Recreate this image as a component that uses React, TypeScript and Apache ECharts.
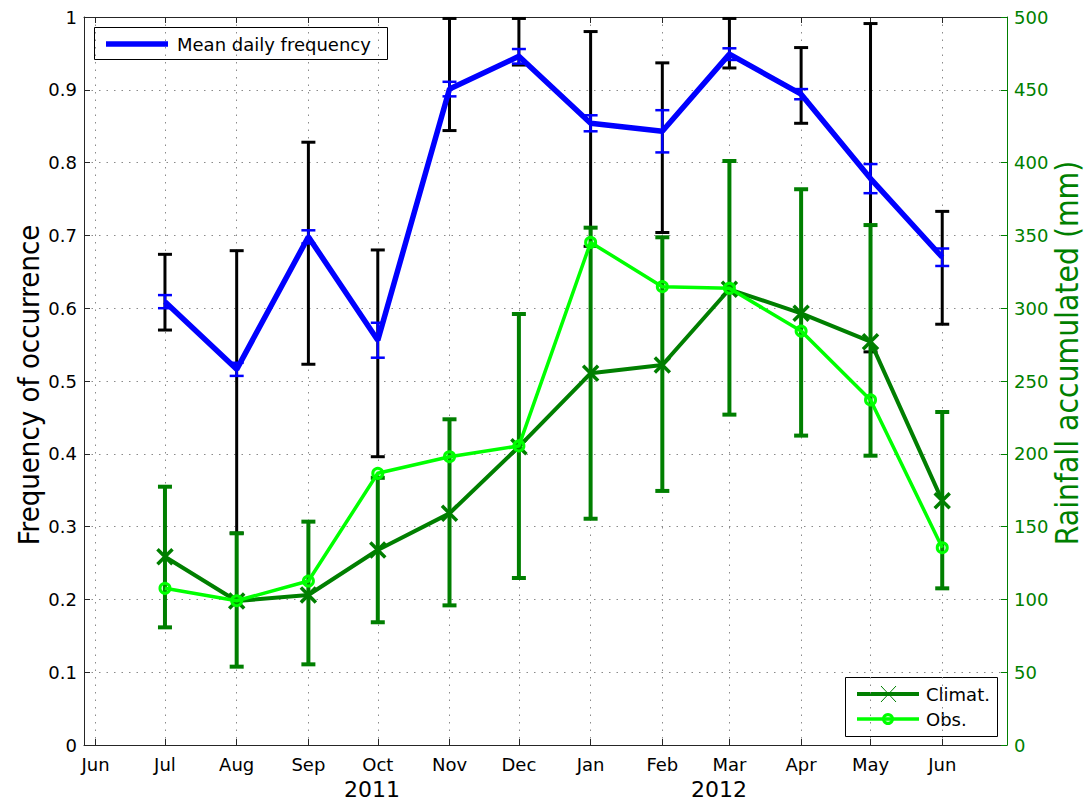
import React, { useEffect, useRef } from "react";
import * as echarts from "echarts";

// Day offsets from 1 Jun 2011 for each month tick (Jun 2011 ... Jun 2012)
const tickDays = [0, 30, 61, 92, 122, 153, 183, 214, 245, 274, 305, 335, 366];
const tickLabels = ["Jun", "Jul", "Aug", "Sep", "Oct", "Nov", "Dec", "Jan", "Feb", "Mar", "Apr", "May", "Jun"];

// Data points (Jul 2011 ... Jun 2012)
const pointDays = [30, 61, 92, 122, 153, 183, 214, 245, 274, 305, 335, 366];

const meanFreq = [0.609, 0.516, 0.698, 0.556, 0.901, 0.946, 0.854, 0.843, 0.949, 0.894, 0.778, 0.670];
const meanErr = [0.009, 0.009, 0.009, 0.024, 0.010, 0.010, 0.011, 0.029, 0.008, 0.007, 0.020, 0.012];
const freqLow = [0.570, 0.291, 0.523, 0.396, 0.844, 0.934, 0.685, 0.704, 0.930, 0.854, 0.540, 0.578];
const freqHigh = [0.674, 0.679, 0.828, 0.680, 0.998, 0.998, 0.980, 0.937, 0.998, 0.958, 0.991, 0.733];

const climat = [129.3, 98.9, 103.0, 133.9, 159.1, 204.9, 255.3, 261.0, 313.0, 296.5, 277.0, 167.8];
const climLow = [80.8, 53.8, 55.4, 84.3, 95.9, 114.7, 155.4, 174.5, 226.9, 212.5, 198.7, 107.6];
const climHigh = [177.4, 145.4, 153.4, 183.5, 223.7, 296.0, 355.3, 348.7, 401.1, 381.7, 357.1, 228.7];
const obs = [107.6, 99.1, 112.6, 186.6, 198.0, 205.4, 345.2, 314.8, 313.7, 284.3, 237.0, 135.5];

const BLUE = "#0000ff";
const DKGREEN = "#007f00";
const LTGREEN = "#00ff00";
const AXIS = "#262626";
const GRID = "#8a8a8a";
const FONT = "'DejaVu Sans', 'Liberation Sans', sans-serif";
const TITLEFONT = "'DejaVu Sans Condensed', 'Liberation Sans Narrow', 'Roboto Condensed', 'DejaVu Sans', sans-serif";

function errorBarSeries(name: string, low: number[], high: number[], color: string, width: number, yAxisIndex: number, z: number) {
  return {
    type: "custom",
    name,
    yAxisIndex,
    z,
    data: pointDays.map((d, i) => [d, low[i], high[i]]),
    encode: { x: 0, y: [1, 2] },
    renderItem: (params: any, api: any) => {
      const x = api.value(0);
      const p1 = api.coord([x, api.value(1)]);
      const p2 = api.coord([x, api.value(2)]);
      const w = 7;
      const style = { stroke: color, lineWidth: width };
      return {
        type: "group",
        children: [
          { type: "line", shape: { x1: p1[0], y1: p1[1], x2: p2[0], y2: p2[1] }, style },
          { type: "line", shape: { x1: p1[0] - w, y1: p1[1], x2: p1[0] + w, y2: p1[1] }, style },
          { type: "line", shape: { x1: p2[0] - w, y1: p2[1], x2: p2[0] + w, y2: p2[1] }, style },
        ],
      };
    },
  };
}

export default function App() {
  const ref = useRef<HTMLDivElement>(null);
  useEffect(() => {
    if (!ref.current) return;
    const chart = echarts.init(ref.current, null, { renderer: "svg" });
    const xCommon = {
      type: "value",
      min: -5,
      max: 394,
      axisLine: { show: true, onZero: false, lineStyle: { color: AXIS, width: 1 } },
      axisTick: { show: true, inside: true, length: 6, customValues: tickDays, lineStyle: { color: AXIS } },
    };
    const option: any = {
      animation: false,
      backgroundColor: "#ffffff",
      grid: { left: 84, top: 17, right: 79, bottom: 58 },
      xAxis: [
        {
          ...xCommon,
          position: "bottom",
          axisLabel: {
            show: true,
            customValues: tickDays,
            formatter: (v: number) => tickLabels[tickDays.indexOf(v)] ?? "",
            fontSize: 18,
            fontFamily: FONT,
            color: "#000",
            margin: 10,
          },
          splitLine: { show: true, lineStyle: { type: [1.5, 6], color: GRID, width: 1 } },
        },
        {
          ...xCommon,
          position: "top",
          axisLabel: { show: false },
          splitLine: { show: false },
        },
      ],
      yAxis: [
        {
          type: "value",
          min: 0,
          max: 1,
          interval: 0.1,
          position: "left",
          axisLine: { show: true, onZero: false, lineStyle: { color: AXIS, width: 1 } },
          axisTick: { show: true, inside: true, length: 6, lineStyle: { color: AXIS } },
          axisLabel: {
            formatter: (v: number) => (v === 0 ? "0" : v === 1 ? "1" : v.toFixed(1)),
            fontSize: 18,
            fontFamily: FONT,
            color: "#000",
            margin: 7,
          },
          splitLine: { show: true, lineStyle: { type: [1.5, 6], color: GRID, width: 1 } },
        },
        {
          type: "value",
          min: 0,
          max: 500,
          interval: 50,
          position: "right",
          axisLine: { show: true, onZero: false, lineStyle: { color: DKGREEN, width: 1 } },
          axisTick: { show: true, inside: true, length: 6, lineStyle: { color: DKGREEN } },
          axisLabel: { fontSize: 18, fontFamily: FONT, color: DKGREEN, margin: 7 },
          splitLine: { show: false },
        },
      ],
      series: [
        errorBarSeries("freqRange", freqLow, freqHigh, "#000000", 3, 0, 2),
        {
          type: "line",
          name: "Mean daily frequency",
          yAxisIndex: 0,
          z: 3,
          data: pointDays.map((d, i) => [d, meanFreq[i]]),
          showSymbol: false,
          symbol: "none",
          lineStyle: { color: BLUE, width: 5.5 },
          itemStyle: { color: BLUE },
        },
        errorBarSeries("meanErr", meanFreq.map((m, i) => m - meanErr[i]), meanFreq.map((m, i) => m + meanErr[i]), BLUE, 2.5, 0, 4),
        errorBarSeries("climRange", climLow, climHigh, DKGREEN, 4, 1, 5),
        {
          type: "line",
          name: "Climat.",
          yAxisIndex: 1,
          z: 6,
          data: pointDays.map((d, i) => [d, climat[i]]),
          symbol: "path://M0,0L10,10M10,0L0,10",
          symbolSize: 15,
          lineStyle: { color: DKGREEN, width: 4 },
          itemStyle: { color: "none", borderColor: DKGREEN, borderWidth: 3.5 },
        },
        {
          type: "line",
          name: "Obs.",
          yAxisIndex: 1,
          z: 7,
          data: pointDays.map((d, i) => [d, obs[i]]),
          symbol: "circle",
          symbolSize: 10,
          lineStyle: { color: LTGREEN, width: 3.5 },
          itemStyle: { color: "rgba(0,255,0,0.15)", borderColor: LTGREEN, borderWidth: 3 },
        },
      ],
      graphic: [
        {
          type: "text",
          x: 29,
          y: 385,
          rotation: Math.PI / 2,
          style: { text: "Frequency of occurrence", fontSize: 29, fontFamily: TITLEFONT, fill: "#000", textAlign: "center", textVerticalAlign: "middle" },
        },
        {
          type: "text",
          x: 1067,
          y: 353,
          rotation: Math.PI / 2,
          style: { text: "Rainfall accumulated (mm)", fontSize: 31.5, fontFamily: TITLEFONT, fill: DKGREEN, textAlign: "center", textVerticalAlign: "middle" },
        },
        {
          type: "text",
          x: 372,
          y: 789,
          style: { text: "2011", fontSize: 22, fontFamily: FONT, fill: "#000", textAlign: "center", textVerticalAlign: "middle" },
        },
        {
          type: "text",
          x: 719,
          y: 789,
          style: { text: "2012", fontSize: 22, fontFamily: FONT, fill: "#000", textAlign: "center", textVerticalAlign: "middle" },
        },
        {
          type: "group",
          z: 100,
          children: [
            { type: "rect", shape: { x: 94.5, y: 27.5, width: 293, height: 32 }, style: { fill: "#fff", stroke: "#000", lineWidth: 1 } },
            { type: "line", shape: { x1: 106, y1: 44, x2: 168, y2: 44 }, style: { stroke: BLUE, lineWidth: 5.5 } },
            { type: "text", x: 177, y: 44, style: { text: "Mean daily frequency", fontSize: 18, fontFamily: FONT, fill: "#000", textVerticalAlign: "middle" } },
          ],
        },
        {
          type: "group",
          z: 100,
          children: [
            { type: "rect", shape: { x: 845.5, y: 677.5, width: 152, height: 59 }, style: { fill: "#fff", stroke: "#000", lineWidth: 1 } },
            { type: "line", shape: { x1: 857, y1: 694, x2: 919, y2: 694 }, style: { stroke: DKGREEN, lineWidth: 4 } },
            { type: "line", shape: { x1: 881, y1: 686, x2: 896, y2: 702 }, style: { stroke: DKGREEN, lineWidth: 1 } },
            { type: "line", shape: { x1: 896, y1: 686, x2: 881, y2: 702 }, style: { stroke: DKGREEN, lineWidth: 1 } },
            { type: "text", x: 926, y: 694, style: { text: "Climat.", fontSize: 18, fontFamily: FONT, fill: "#000", textVerticalAlign: "middle" } },
            { type: "line", shape: { x1: 857, y1: 719, x2: 919, y2: 719 }, style: { stroke: LTGREEN, lineWidth: 3.5 } },
            { type: "circle", shape: { cx: 888, cy: 719, r: 4.5 }, style: { fill: "rgba(0,255,0,0.15)", stroke: LTGREEN, lineWidth: 3 } },
            { type: "text", x: 926, y: 719, style: { text: "Obs.", fontSize: 18, fontFamily: FONT, fill: "#000", textVerticalAlign: "middle" } },
          ],
        },
      ],
    };
    chart.setOption(option);
    return () => chart.dispose();
  }, []);
  return <div ref={ref} style={{ position: "absolute", left: 0, top: 0, width: 1086, height: 803 }} />;
}
